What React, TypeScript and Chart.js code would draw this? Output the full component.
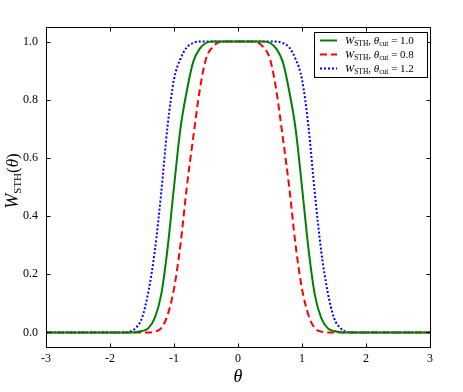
import React, { useEffect, useRef } from 'react';
import { Chart, registerables } from 'chart.js';

Chart.register(...registerables);

// theta grid (x values)
const theta = [-3, -2, -1.8, -1.7, -1.6, -1.5, -1.4, -1.3, -1.2, -1.1, -1.0, -0.9, -0.8, -0.7, -0.6, -0.5, -0.4, -0.3, -0.2, 0,
  0.2, 0.3, 0.4, 0.5, 0.6, 0.7, 0.8, 0.9, 1.0, 1.1, 1.2, 1.3, 1.4, 1.5, 1.6, 1.7, 1.8, 2, 3];

// W_STH, theta_cut = 1.0
const wCut10 = [0, 0, 0, 0, 0.001, 0.005, 0.015, 0.05, 0.13, 0.29, 0.50, 0.70, 0.83, 0.93, 0.975, 0.995, 1, 1, 1, 1,
  1, 1, 1, 0.995, 0.975, 0.93, 0.83, 0.70, 0.50, 0.29, 0.13, 0.05, 0.015, 0.005, 0.001, 0, 0, 0, 0];
// W_STH, theta_cut = 0.8
const wCut08 = [0, 0, 0, 0, 0, 0, 0, 0.003, 0.015, 0.06, 0.15, 0.30, 0.50, 0.67, 0.83, 0.94, 0.98, 0.997, 1, 1,
  1, 0.997, 0.98, 0.94, 0.83, 0.67, 0.50, 0.30, 0.15, 0.06, 0.015, 0.003, 0, 0, 0, 0, 0, 0, 0];
// W_STH, theta_cut = 1.2
const wCut12 = [0, 0, 0, 0.002, 0.015, 0.05, 0.14, 0.28, 0.48, 0.71, 0.87, 0.94, 0.98, 0.995, 1, 1, 1, 1, 1, 1,
  1, 1, 1, 1, 1, 0.995, 0.98, 0.94, 0.87, 0.71, 0.48, 0.28, 0.14, 0.05, 0.015, 0.002, 0, 0, 0];

const cutLabels = ['1.0', '0.8', '1.2'];
const xTicks = [-3, -2, -1, 0, 1, 2, 3];
const yTicks = [0, 0.2, 0.4, 0.6, 0.8, 1.0];

const SERIF = '"Liberation Serif", "DejaVu Serif", serif';

type Seg = { t: string; f: string; dy?: number };

function segsWidth(ctx: CanvasRenderingContext2D, segs: Seg[]) {
  let w = 0;
  for (const s of segs) {
    ctx.font = s.f;
    w += ctx.measureText(s.t).width;
  }
  return w;
}

function drawSegs(ctx: CanvasRenderingContext2D, segs: Seg[], x: number, y: number) {
  let cx = x;
  ctx.textBaseline = 'alphabetic';
  ctx.textAlign = 'left';
  for (const s of segs) {
    ctx.font = s.f;
    ctx.fillText(s.t, cx, y + (s.dy || 0));
    cx += ctx.measureText(s.t).width;
  }
}

const styles = [
  { color: '#008000', dash: [] as number[] },
  { color: '#ff0000', dash: [7, 4] },
  { color: '#0000ff', dash: [2, 2] },
];

const framePlugin = {
  id: 'mplFrame',
  afterDraw(chart: any) {
    const ctx: CanvasRenderingContext2D = chart.ctx;
    const { left, right, top, bottom } = chart.chartArea;
    const xs = chart.scales.x;
    const ys = chart.scales.y;
    ctx.save();
    ctx.strokeStyle = '#000';
    ctx.lineWidth = 1;
    const L = Math.floor(left) + 0.5;
    const R = Math.floor(right) + 0.5;
    const T = Math.floor(top) + 0.5;
    const B = Math.floor(bottom) + 0.5;
    ctx.beginPath();
    ctx.rect(L, T, R - L, B - T);
    ctx.stroke();
    const tl = 4;
    ctx.beginPath();
    for (const v of xTicks) {
      const p = Math.round(xs.getPixelForValue(v)) + 0.5;
      ctx.moveTo(p, B); ctx.lineTo(p, B - tl);
      ctx.moveTo(p, T); ctx.lineTo(p, T + tl);
    }
    for (const v of yTicks) {
      const p = Math.round(ys.getPixelForValue(v)) + 0.5;
      ctx.moveTo(L, p); ctx.lineTo(L + tl, p);
      ctx.moveTo(R, p); ctx.lineTo(R - tl, p);
    }
    ctx.stroke();

    ctx.fillStyle = '#000';
    // x title
    const xt: Seg[] = [{ t: 'θ', f: `italic 18px ${SERIF}` }];
    const xw = segsWidth(ctx, xt);
    drawSegs(ctx, xt, (left + right) / 2 - xw / 2, 382);

    // y title
    const yt: Seg[] = [
      { t: 'W', f: `italic 18px ${SERIF}` },
      { t: 'STH', f: `11px ${SERIF}`, dy: 3 },
      { t: '(', f: `17px ${SERIF}` },
      { t: 'θ', f: `italic 17px ${SERIF}` },
      { t: ')', f: `17px ${SERIF}` },
    ];
    const yw = segsWidth(ctx, yt);
    ctx.save();
    ctx.translate(18, 181);
    ctx.rotate(-Math.PI / 2);
    drawSegs(ctx, yt, -yw / 2, 0);
    ctx.restore();

    // legend
    const bx = 314.5, by = 32.5, bw = 113, bh = 45;
    ctx.fillStyle = '#fff';
    ctx.fillRect(bx, by, bw, bh);
    ctx.strokeStyle = '#000';
    ctx.lineWidth = 1;
    ctx.strokeRect(bx, by, bw, bh);
    const rows = [40.5, 54.5, 68.5];
    for (let i = 0; i < 3; i++) {
      const ry = rows[i];
      ctx.save();
      ctx.strokeStyle = styles[i].color;
      ctx.lineWidth = 2;
      ctx.setLineDash(styles[i].dash);
      ctx.beginPath();
      ctx.moveTo(320, ry);
      ctx.lineTo(337, ry);
      ctx.stroke();
      ctx.restore();
      ctx.fillStyle = '#000';
      const segs: Seg[] = [
        { t: 'W', f: `italic 11px ${SERIF}` },
        { t: 'STH', f: `7.5px ${SERIF}`, dy: 2 },
        { t: ', ', f: `11px ${SERIF}` },
        { t: 'θ', f: `italic 11px ${SERIF}` },
        { t: 'cut', f: `7.5px ${SERIF}`, dy: 2 },
        { t: ' = ' + cutLabels[i], f: `11px ${SERIF}` },
      ];
      drawSegs(ctx, segs, 345, ry + 3.5);
    }
    ctx.restore();
  },
};

export default function App() {
  const ref = useRef<HTMLCanvasElement>(null);
  useEffect(() => {
    if (!ref.current) return;
    const series = [wCut10, wCut08, wCut12];
    const chart = new Chart(ref.current, {
      type: 'line',
      data: {
        datasets: series.map((vals, i) => ({
          label: 'W_STH, θ_cut = ' + cutLabels[i],
          data: theta.map((t, k) => ({ x: t, y: vals[k] })),
          borderColor: styles[i].color,
          borderWidth: 2,
          borderDash: styles[i].dash,
          pointRadius: 0,
          fill: false,
          cubicInterpolationMode: 'monotone' as const,
        })),
      },
      options: {
        animation: false,
        responsive: false,
        devicePixelRatio: 1,
        layout: { padding: { left: 0, right: 33, top: 27, bottom: 0 } },
        plugins: { legend: { display: false }, tooltip: { enabled: false } },
        scales: {
          x: {
            type: 'linear',
            min: -3,
            max: 3,
            grid: { display: false, drawTicks: false },
            border: { display: false },
            ticks: {
              color: '#000',
              font: { family: SERIF, size: 12 },
              padding: 5,
              maxRotation: 0,
              autoSkip: false,
              callback: (v: any) => String(v),
            },
            afterBuildTicks: (s: any) => { s.ticks = xTicks.map((v) => ({ value: v })); },
            afterFit: (s: any) => { s.height = 45; },
          },
          y: {
            type: 'linear',
            min: -0.05,
            max: 1.05,
            grid: { display: false, drawTicks: false },
            border: { display: false },
            ticks: {
              color: '#000',
              font: { family: SERIF, size: 12 },
              padding: 8,
              autoSkip: false,
              callback: (v: any) => Number(v).toFixed(1),
            },
            afterBuildTicks: (s: any) => { s.ticks = yTicks.map((v) => ({ value: v })); },
            afterFit: (s: any) => { s.width = 46; },
          },
        },
      },
      plugins: [framePlugin],
    });
    return () => chart.destroy();
  }, []);
  return (
    <div style={{ position: 'absolute', left: 0, top: 0, width: 463, height: 392, background: '#fff' }}>
      <canvas ref={ref} width={463} height={392} />
    </div>
  );
}
